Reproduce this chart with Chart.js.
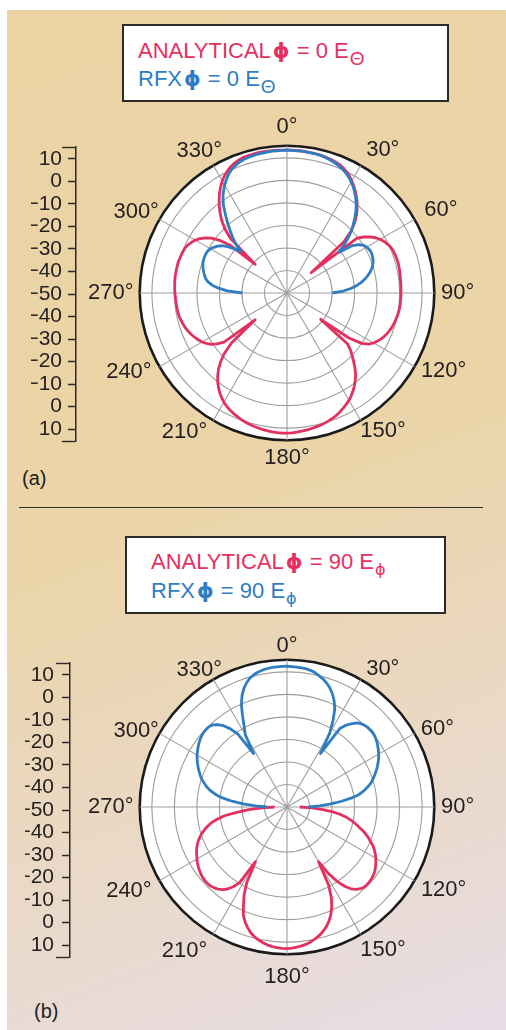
<!DOCTYPE html>
<html>
<head>
<meta charset="utf-8">
<script src="https://cdn.jsdelivr.net/npm/chart.js@4/dist/chart.umd.min.js"></script>
<style>
  html, body { margin: 0; padding: 0; background: #fff; }
  #page { position: relative; width: 506px; height: 1030px; overflow: hidden; background: #fff;
          font-family: "Liberation Sans", Arial, Helvetica, sans-serif; }
  #panel { position: absolute; left: 7px; top: 10px; right: 0; bottom: 0;
           background: linear-gradient(160deg, #ebd3a4 0%, #ebd4a7 46%, #ead8c2 70%, #e7dde6 100%); }
  .legend { position: absolute; box-sizing: border-box; border: 2.5px solid #2b2b2b; background: #fff; }
  .row { position: absolute; white-space: nowrap; font-size: 22px; line-height: 22px; }
  .red { color: #e3305f; }
  .blue { color: #2e7dc2; }
  .phi { font-family: "DejaVu Sans", sans-serif; font-weight: bold; font-size: 21px; margin: 0 1px 0 2px; }
  .sub { font-size: 19px; position: relative; top: 7px; margin-left: 1px; }
  .subphi { font-family: "DejaVu Sans", sans-serif; font-size: 16px; position: relative; top: 6px; margin-left: 1px; }
  .rule { position: absolute; left: 19px; top: 507px; width: 464px; border-top: 1.5px solid #333; }
  .tag { position: absolute; font-size: 20px; line-height: 20px; color: #231f20; }
  canvas { position: absolute; }
</style>
</head>
<body>
<div id="page">
  <div id="panel"></div>

  <div class="legend" style="left:122px; top:24px; width:327px; height:78px;"></div>
  <div class="row red"  style="left:138px; top:40px;">ANALYTICAL<span class="phi">ϕ</span> = 0 E<span class="sub">Θ</span></div>
  <div class="row blue" style="left:138px; top:68px;">RFX<span class="phi">ϕ</span> = 0 E<span class="sub">Θ</span></div>
  <div class="tag" style="left:22px; top:468px;">(a)</div>

  <div class="rule"></div>

  <div class="legend" style="left:125px; top:536px; width:321px; height:78px;"></div>
  <div class="row red"  style="left:151px; top:551px;">ANALYTICAL<span class="phi">ϕ</span> = 90 E<span class="subphi">ϕ</span></div>
  <div class="row blue" style="left:151px; top:580px;">RFX<span class="phi">ϕ</span> = 90 E<span class="subphi">ϕ</span></div>
  <div class="tag" style="left:34px; top:1001px;">(b)</div>
</div>

<script>
// ---------- shared axes ----------
// sampling directions, degrees clockwise from 0° at the top
const ANGLES_DEG = Array.from({ length: 180 }, (_, i) => i * 2);
const DIRECTION_LABELS = ['0°', '30°', '60°', '90°', '120°', '150°',
                          '180°', '210°', '240°', '270°', '300°', '330°'];
// rings of the polar grid in dB; the last one is the outer rim
const RING_DB = [-50, -40, -30, -20, -10, 0, 10, 15.4];
// dB scale bar beside each plot, read top to bottom
const SCALE_BAR_LABELS = ['10', '0', '−10', '−20', '−30', '−40', '−50',
                          '−40', '−30', '−20', '−10', '0', '10'];
const SCALE_BAR_OFFSETS = [60, 50, 40, 30, 20, 10, 0, -10, -20, -30, -40, -50, -60];
const SCALE_BAR_END = 65.3;

// ---------- (a) phi = 0, E-theta ----------
// analytical pattern, 0° … 358° in 2° steps
const A_ANALYTICAL_DB = [
  13.5, 13.5, 13.4, 13.4, 13.3, 13.2, 13.1, 13.0, 12.7, 12.4,
  12.1, 11.7, 11.0, 10.1, 8.9, 7.5, 6.0, 4.3, 2.5, 0.6,
  -1.6, -4.0, -6.8, -10.5, -16.0, -36.0, -10.5, -7.7, -5.5, -3.7,
  -2.3, -1.2, -0.4, 0.3, 0.7, 0.9, 1.0, 1.1, 1.1, 1.0,
  0.9, 0.8, 0.7, 0.7, 0.6, 0.6, 0.6, 0.5, 0.5, 0.4,
  0.2, 0.0, -0.3, -0.6, -1.0, -1.5, -2.0, -2.7, -3.5, -4.5,
  -5.6, -7.2, -10.0, -16.0, -31.0, -15.0, -12.0, -9.7, -7.3, -4.9,
  -2.6, -0.8, 0.9, 2.4, 3.8, 5.0, 6.0, 6.9, 7.8, 8.6,
  9.2, 9.7, 10.2, 10.6, 10.9, 11.2, 11.5, 11.7, 11.9, 12.1,
  12.2, 12.2, 12.1, 12.0, 11.8, 11.6, 11.3, 11.0, 10.6, 10.2,
  9.7, 9.1, 8.5, 7.8, 7.0, 6.0, 4.8, 3.4, 1.8, 0.0,
  -2.1, -4.6, -7.6, -11.2, -16.8, -31.5, -14.5, -11.5, -9.3, -7.8,
  -6.5, -5.5, -4.7, -3.9, -3.2, -2.6, -2.1, -1.7, -1.3, -1.0,
  -0.8, -0.7, -0.6, -0.5, -0.4, -0.2, -0.1, 0.0, 0.1, 0.2,
  0.2, 0.2, 0.2, 0.2, 0.0, -0.1, -0.3, -0.5, -1.2, -2.0,
  -3.0, -4.4, -6.2, -8.5, -12.0, -17.0, -31.0, -15.0, -10.2, -6.7,
  -3.8, -1.2, 1.3, 3.6, 5.6, 7.5, 9.0, 10.3, 11.4, 12.2,
  12.8, 13.2, 13.4, 13.5, 13.6, 13.6, 13.6, 13.6, 13.6, 13.5
];
// RFX result, upper half only: 270° … 358°, then 0° … 90°
const A_RFX_START_DEG = 270;
const A_RFX_DB = [
  -30.2, -23.5, -19.5, -16.6, -14.6, -13.3, -12.6, -11.9, -11.3, -10.7,
  -10.3, -10.1, -10.0, -10.0, -10.2, -10.8, -11.7, -12.8, -14.3, -16.6,
  -19.5, -22.4, -18.0, -15.0, -12.0, -8.7, -5.5, -2.0, 0.9, 3.2,
  5.4, 7.2, 8.9, 10.2, 11.1, 11.8, 12.3, 12.6, 12.8, 13.0,
  13.1, 13.2, 13.3, 13.3, 13.4,
  13.4, 13.4, 13.3, 13.3, 13.2, 13.1, 13.0, 12.8, 12.5, 12.1,
  11.6, 11.0, 10.3, 9.4, 8.3, 7.0, 5.5, 3.8, 1.9, -0.1,
  -2.4, -5.0, -7.6, -10.2, -13.5, -17.2, -20.6, -14.3, -11.5, -10.0,
  -9.2, -8.7, -8.5, -8.6, -8.9, -9.3, -10.0, -10.9, -12.0, -13.4,
  -15.0, -16.8, -19.0, -21.6, -25.0, -29.9
];

// ---------- (b) phi = 90, E-phi ----------
// analytical result, lower half only: 90° … 270°
const B_ANALYTICAL_START_DEG = 90;
const B_ANALYTICAL_DB = [
  -44.3, -39.0, -34.0, -29.5, -26.0, -23.0, -20.5, -18.4, -16.3, -14.0,
  -12.0, -10.3, -8.4, -6.9, -5.6, -4.5, -3.5, -2.6, -1.8, -1.2,
  -0.8, -0.6, -0.5, -0.6, -1.2, -2.3, -3.9, -6.5, -10.2, -15.0,
  -22.0, -10.5, -5.0, -1.2, 1.8, 4.2, 6.1, 7.6, 8.9, 9.9,
  10.8, 11.5, 12.0, 12.4, 12.7, 12.9, 12.8, 12.6, 12.3, 11.9,
  11.2, 10.4, 9.4, 8.2, 6.4, 4.4, 1.8, -2.5, -6.5, -12.0,
  -22.0, -10.5, -7.3, -5.0, -3.5, -2.4, -1.7, -1.2, -1.0, -1.0,
  -1.2, -1.5, -2.0, -2.5, -3.1, -3.8, -4.6, -5.3, -6.2, -7.2,
  -8.4, -9.8, -11.5, -13.3, -15.5, -18.3, -22.0, -27.5, -33.0, -39.0,
  -44.5
];
// RFX result, upper half only: 270° … 358°, then 0° … 90°
const B_RFX_START_DEG = 270;
const B_RFX_DB = [
  -41.0, -36.0, -30.5, -25.5, -21.0, -17.8, -15.3, -13.3, -11.8, -10.2,
  -9.0, -7.9, -6.8, -5.8, -4.8, -3.9, -3.1, -2.4, -1.7, -1.1,
  -0.6, -0.3, -0.2, -0.3, -0.9, -2.2, -4.2, -7.0, -11.0, -22.0,
  -13.0, -9.5, -5.0, -0.2, 3.3, 6.0, 8.0, 9.6, 10.6, 11.3,
  11.8, 12.1, 12.3, 12.4, 12.5,
  12.5, 12.4, 12.3, 12.1, 11.9, 11.5, 10.8, 9.9, 8.9, 7.6,
  6.0, 4.0, 1.5, -1.6, -6.5, -12.0, -22.0, -7.8, -5.0, -3.0,
  -1.3, -0.4, 0.1, 0.4, 0.5, 0.3, -0.1, -0.7, -1.4, -2.2,
  -3.0, -3.9, -5.0, -6.1, -7.3, -8.6, -9.9, -11.2, -13.0, -15.0,
  -17.3, -21.0, -25.6, -30.5, -35.5, -40.5
];

// ---------- look ----------
const FONT_FAMILY = '"Liberation Sans", Arial, Helvetica, sans-serif';
const TEXT_COLOR = '#231f20';
const RED = '#e3305f';
const BLUE = '#2e7dc2';
const GRID_GRAY = '#9d9d9d';
const RIM_COLOR = '#1b1b1b';
const AXIS_DARK = '#2b2b2b';
const PLOT_RADIUS = 147;
const LABEL_SIZE = 22;
// per-direction label placement: [padding off the rim (px), label box height (em)]
const LABELS_UPPER_PLOT = {
  0: [5.3, 1.2], 30: [11, 0.51], 60: [11.2, 0.31], 90: [6.7, 1.2],
  120: [7.3, 0.05], 150: [-0.8, 0.99], 180: [4.3, 1.2], 210: [12, 0.05],
  240: [9, 0.05], 270: [6.2, 1.2], 300: [0.6, 0.61], 330: [-17.4, 2.73]
};
const LABELS_LOWER_PLOT = {
  0: [5.3, 0.745], 30: [11, 0.055], 60: [7.2, 0.05], 90: [6.7, 1.2],
  120: [7.3, 0.5], 150: [-0.8, 1.45], 180: [4.3, 1.65], 210: [12, 0.5],
  240: [9, 0.5], 270: [6.2, 1.2], 300: [0.6, 0.155], 330: [-17.4, 2.27]
};

const page = document.getElementById('page');

// spread a partial trace onto the full 0…358° grid, leaving the rest empty
function onGrid(startDeg, values) {
  const out = ANGLES_DEG.map(() => null);
  const i0 = startDeg / 2;
  values.forEach((v, k) => { out[(i0 + k) % ANGLES_DEG.length] = v; });
  return out;
}

function polarConfig(traces, placement) {
  const rim = RING_DB.length - 1;
  const place = i => placement[ANGLES_DEG[i]] || [6.5, 1.2];
  return {
    type: 'radar',
    data: {
      labels: ANGLES_DEG,
      datasets: traces.map(t => ({
        label: t.label,
        data: t.data,
        borderColor: t.color,
        backgroundColor: t.color,
        borderWidth: 2.8,
        borderJoinStyle: 'round',
        pointRadius: 0,
        pointHoverRadius: 0,
        fill: false,
        tension: 0,
        spanGaps: false
      }))
    },
    options: {
      responsive: false,
      animation: false,
      events: [],
      layout: { padding: 0 },
      plugins: { legend: { display: false }, tooltip: { enabled: false } },
      scales: {
        r: {
          min: RING_DB[0],
          max: RING_DB[rim],
          backgroundColor: '#ffffff',
          afterBuildTicks: s => { s.ticks = RING_DB.map(v => ({ value: v })); },
          ticks: { display: false },
          grid: {
            circular: true,
            color: c => (c.index === rim ? RIM_COLOR : GRID_GRAY),
            lineWidth: c => (c.index === rim ? 2.6 : 1.1)
          },
          angleLines: {
            color: c => (ANGLES_DEG[c.index] % 30 === 0 ? GRID_GRAY : 'rgba(0,0,0,0)'),
            lineWidth: c => (ANGLES_DEG[c.index] % 30 === 0 ? 1.1 : 0)
          },
          pointLabels: {
            callback: v => (v % 30 === 0 ? DIRECTION_LABELS[v / 30] : ''),
            color: TEXT_COLOR,
            padding: c => place(c.index)[0],
            font: c => ({ family: FONT_FAMILY, size: LABEL_SIZE, lineHeight: place(c.index)[1] })
          }
        }
      }
    }
  };
}

// build a polar plot whose rim has PLOT_RADIUS and whose centre sits at (cx, cy)
function placePolar(cx, cy, traces, placement) {
  let size = 400, chart = null, canvas = null;
  for (let k = 0; k < 5; k++) {
    if (chart) { chart.destroy(); canvas.remove(); }
    canvas = document.createElement('canvas');
    canvas.width = size; canvas.height = size;
    canvas.style.width = size + 'px'; canvas.style.height = size + 'px';
    page.appendChild(canvas);
    chart = new Chart(canvas, polarConfig(traces, placement));
    const d = chart.scales.r.drawingArea;
    if (Math.abs(d - PLOT_RADIUS) < 0.4) break;
    size = Math.round(size + 2 * (PLOT_RADIUS - d));
  }
  const r = chart.scales.r;
  canvas.style.left = (cx - r.xCenter) + 'px';
  canvas.style.top = (cy - r.yCenter) + 'px';
  return chart;
}

function scaleBarConfig(pad, labelGap) {
  const last = SCALE_BAR_OFFSETS.length + 1;
  const isCap = i => i === 0 || i === last;
  return {
    type: 'line',
    data: { labels: [], datasets: [] },
    options: {
      responsive: false,
      animation: false,
      events: [],
      layout: { padding: { top: pad, bottom: pad, left: 0, right: 0 } },
      plugins: { legend: { display: false }, tooltip: { enabled: false } },
      scales: {
        x: { display: false },
        y: {
          position: 'left',
          min: -SCALE_BAR_END,
          max: SCALE_BAR_END,
          afterBuildTicks: s => {
            s.ticks = [-SCALE_BAR_END, ...SCALE_BAR_OFFSETS.slice().reverse(), SCALE_BAR_END]
              .map(v => ({ value: v }));
          },
          ticks: {
            autoSkip: false,
            padding: labelGap,
            color: TEXT_COLOR,
            font: { family: FONT_FAMILY, size: 21 },
            callback: (v, i) => (isCap(i) ? '' : SCALE_BAR_LABELS[SCALE_BAR_OFFSETS.length - i])
          },
          grid: {
            drawOnChartArea: false,
            tickLength: 14,
            tickWidth: 1.4,
            tickColor: AXIS_DARK,
            tickBorderDash: c => (isCap(c.index) ? [] : [0, 6, 8, 60])
          },
          border: { display: true, color: AXIS_DARK, width: 1.5 }
        }
      }
    }
  };
}

// dB bar: axis line at x = axisX, centred on y = centreY, same scale as the rings
function placeScaleBar(axisX, centreY, labelGap) {
  const pxPerDb = PLOT_RADIUS / (RING_DB[RING_DB.length - 1] - RING_DB[0]);
  const pad = 16;
  const areaH = 2 * SCALE_BAR_END * pxPerDb;
  const canvas = document.createElement('canvas');
  canvas.width = 90;
  canvas.height = Math.round(areaH + 2 * pad);
  canvas.style.width = canvas.width + 'px';
  canvas.style.height = canvas.height + 'px';
  page.appendChild(canvas);
  const chart = new Chart(canvas, scaleBarConfig(pad, labelGap));
  const a = chart.chartArea;
  canvas.style.left = (axisX - a.left) + 'px';
  canvas.style.top = (centreY - (a.top + a.bottom) / 2) + 'px';
  return chart;
}

// (a)
placePolar(287, 293, [
  { label: 'RFX φ = 0 Eθ', data: onGrid(A_RFX_START_DEG, A_RFX_DB), color: BLUE },
  { label: 'ANALYTICAL φ = 0 Eθ', data: A_ANALYTICAL_DB, color: RED }
], LABELS_UPPER_PLOT);
placeScaleBar(76, 294, 0);

// (b)
placePolar(287, 806.5, [
  { label: 'RFX φ = 90 Eφ', data: onGrid(B_RFX_START_DEG, B_RFX_DB), color: BLUE },
  { label: 'ANALYTICAL φ = 90 Eφ', data: onGrid(B_ANALYTICAL_START_DEG, B_ANALYTICAL_DB), color: RED }
], LABELS_LOWER_PLOT);
placeScaleBar(69.5, 809.5, 2);
</script>
</body>
</html>
